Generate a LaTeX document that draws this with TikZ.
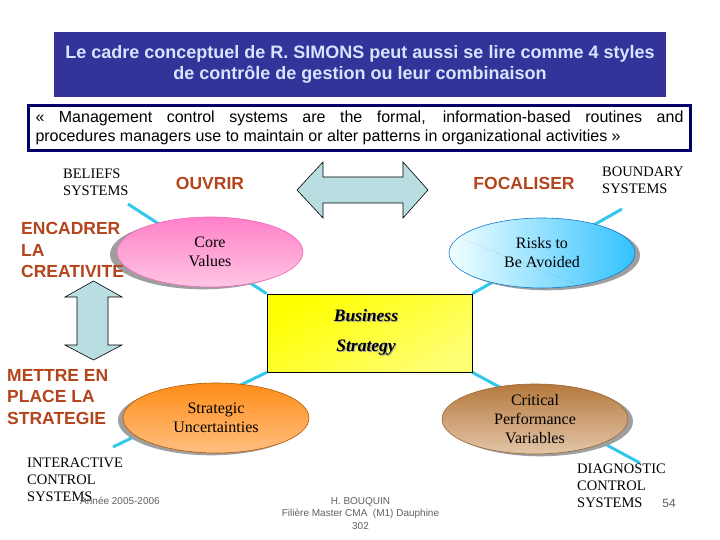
\documentclass[tikz,border=0pt]{standalone}
\usepackage{fontspec}
\setmainfont{Liberation Serif}
\setsansfont{Liberation Sans}
\usepackage{tikz}
\usetikzlibrary{
  shapes.geometric,
  shadows,
  backgrounds
}
\definecolor{titleblue}{RGB}{51,51,153}
\definecolor{titletext}{RGB}{215,228,255}
\definecolor{navy}{RGB}{0,0,102}
\definecolor{rust}{RGB}{180,68,28}
\definecolor{linkcyan}{RGB}{51,200,235}
\definecolor{arrowfill}{RGB}{185,222,226}
\definecolor{pinktop}{RGB}{255,128,200}
\definecolor{pinkbottom}{RGB}{255,198,228}

\begin{document}
\begin{tikzpicture}[x=1pt, y=-1pt,
  verb/.style={font=\sffamily\bfseries\fontsize{17.5}{21.5}\selectfont, text=rust, align=left, inner sep=0pt},
  sys/.style={font=\fontsize{14.5}{17}\selectfont, align=left, inner sep=0pt, anchor=west},
  lever/.style={ellipse, draw=#1, line width=0.6pt, minimum width=186pt, minimum height=70pt, font=\fontsize{16}{19}\selectfont, align=center, inner sep=0pt},
  shade/.style={drop shadow={shadow xshift=#1, fill=gray!75, opacity=1}},
  link/.style={draw=linkcyan, line width=3pt},
  bigarrow/.style={draw=black, fill=arrowfill, line width=0.6pt},
  slanted/.style={font=\bfseries\itshape\fontsize{17.5}{21}\selectfont},
  foot/.style={font=\sffamily\fontsize{10}{12.2}\selectfont, text=gray!75!black, align=center, inner sep=0pt}
]
  \useasboundingbox (0,0) rectangle (720,540);

  \node[fill=titleblue, minimum width=612pt, minimum height=65pt, text=titletext, align=center,
        font=\sffamily\bfseries\fontsize{18}{21}\selectfont] (title) at (360,64.5)
    {Le cadre conceptuel de R. SIMONS peut aussi se lire comme 4 styles\\de contrôle de gestion ou leur combinaison};

  \node[draw=navy, line width=3pt, fill=white, minimum width=662pt, minimum height=45pt, text width=648pt,
        align=justify, inner sep=0pt, font=\sffamily\fontsize{16}{19}\selectfont] (definition) at (359.5,128)
    {\parfillskip=0pt « Management control systems are the formal, information-based routines and\linebreak
     procedures managers use to maintain or alter patterns in organizational activities »};

  \node[draw=black, line width=0.8pt, top color=yellow, bottom color=yellow!55, shading angle=30, minimum width=205pt,
        minimum height=78pt, inner sep=0pt] (strategy) at (369.5,333) {};

  \coordinate (beliefsend) at (128,204);
  \coordinate (boundaryend) at (622,209);
  \coordinate (interactend) at (113,447);
  \coordinate (diagnosticend) at (640,463);

  \begin{scope}[on background layer]
    \fill[white] (0,0) rectangle (720,540);
    \draw[link] (beliefsend) -- (strategy.north west);
    \draw[link] (boundaryend) -- (strategy.north east);
    \draw[link] (interactend) -- (strategy.south west);
    \draw[link] (diagnosticend) -- (strategy.south east);
  \end{scope}

  \node[slanted, text=gray!70] at (367,317) {Business};
  \node[slanted] (business) at (366,316) {Business};
  \node[slanted, text=gray!70] at (367,349) {Strategy};
  \node[slanted] (strat) at (366,348) {Strategy};

  \node[lever=magenta!60, top color=pinktop, bottom color=pinkbottom, shade=-7pt] (core) at (210,252) {Core\\Values};
  \node[lever=cyan!60!blue, left color=cyan!5, right color=cyan!70!blue!80, shade=5pt] (risks) at (542,253) {Risks to\\Be Avoided};
  \draw[dotted, gray] (465,240) -- (573,283);
  \node[lever=orange!70!black, top color=orange!90, bottom color=orange!50, shade=-5pt] (uncertain) at (216,418) {Strategic\\Uncertainties};
  \node[lever=brown!80!black, top color=brown!95!black, bottom color=brown!45!white, shade=5pt] (critical) at (535,419) {Critical\\Performance\\Variables};

  \draw[bigarrow] (297,190) -- (323,162) -- (323,177) -- (403,177) -- (403,162) -- (428,190)
    -- (403,218) -- (403,203) -- (323,203) -- (323,218) -- cycle;
  \draw[bigarrow] (93.5,281) -- (122,297) -- (108,297) -- (108,345) -- (122,345) -- (93.5,360)
    -- (65,345) -- (77,345) -- (77,297) -- (65,297) -- cycle;

  \node[verb] (open) at (210,183) {OUVRIR};
  \node[verb] (focus) at (524,183) {FOCALISER};
  \node[verb, anchor=west] (frame) at (21,250) {ENCADRER\\LA\\CREATIVITE};
  \node[verb, anchor=west] (deploy) at (7,397) {METTRE EN\\PLACE LA\\STRATEGIE};

  \node[sys] (beliefs) at (63,182) {BELIEFS\\SYSTEMS};
  \node[sys] (boundary) at (602,180) {BOUNDARY\\SYSTEMS};
  \node[sys] (interactive) at (27,480) {INTERACTIVE\\CONTROL\\SYSTEMS};
  \node[sys] (diagnostic) at (577,486) {DIAGNOSTIC\\CONTROL\\SYSTEMS};

  \node[foot] (year) at (120,501) {Année 2005-2006};
  \node[foot] (author) at (360.5,513.5) {H. BOUQUIN\\Filière Master CMA\ \ (M1) Dauphine\\302};
  \node[foot, font=\sffamily\fontsize{12}{14}\selectfont] (page) at (669,503) {54};
\end{tikzpicture}
\end{document}
